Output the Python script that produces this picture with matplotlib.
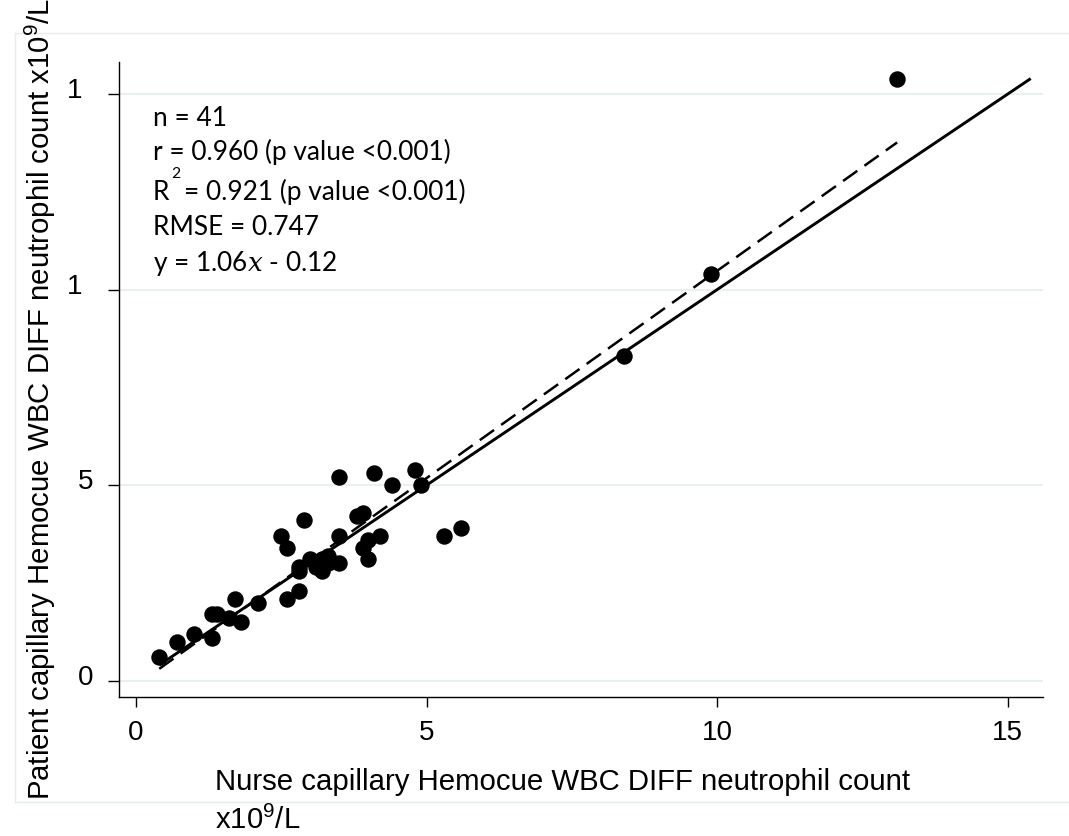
import matplotlib
matplotlib.use("Agg")
import matplotlib.pyplot as plt
from matplotlib.transforms import ScaledTranslation
from matplotlib.lines import Line2D

# ---------------- data ----------------
nurse = [0.4, 0.7, 1.0, 1.3, 1.3, 1.4, 1.6, 1.8, 1.7, 2.1,
         2.6, 2.8, 2.8, 2.8, 3.0, 2.5, 2.6, 2.9, 3.2, 3.2,
         3.3, 3.5, 3.5, 3.5, 3.8, 3.9, 3.9, 4.0, 4.0, 4.2,
         4.1, 4.4, 4.8, 4.9, 5.3, 5.6, 8.4, 9.9, 13.1, 3.3, 3.1]
patient = [0.6, 1.0, 1.2, 1.1, 1.7, 1.7, 1.6, 1.5, 2.1, 2.0,
           2.1, 2.3, 2.8, 2.9, 3.1, 3.7, 3.4, 4.1, 2.8, 3.1,
           3.2, 3.0, 3.7, 5.2, 4.2, 4.3, 3.4, 3.1, 3.6, 3.7,
           5.3, 5.0, 5.4, 5.0, 3.7, 3.9, 8.3, 10.4, 15.4, 3.0, 2.9]
fit_slope = 1.06
fit_intercept = -0.12
x_ticks = [0, 5, 10, 15]
x_tick_labels = ["0", "5", "10", "15"]
y_ticks = [0, 5, 10, 15]
y_tick_labels = ["0", "5", "1", "1"]
stat_n = "n = 41"
stat_r = "r = 0.960 (p value <0.001)"
stat_R2 = "= 0.921 (p value <0.001)"
stat_rmse = "RMSE = 0.747"
stat_eq = r"y = 1.06$x$ - 0.12"
xlabel_1 = "Nurse capillary Hemocue WBC DIFF neutrophil count"
xlabel_2 = r"x10$^{9}$/L"
ylabel = r"Patient capillary Hemocue WBC DIFF neutrophil count x10$^{9}$/L"

# ---------------- style ----------------
plt.rcParams["font.family"] = ["Liberation Sans", "DejaVu Sans"]
plt.rcParams["mathtext.fontset"] = "custom"
plt.rcParams["mathtext.rm"] = "Liberation Sans"
plt.rcParams["mathtext.it"] = "Liberation Sans:italic"
plt.rcParams["mathtext.bf"] = "Liberation Sans:bold"

W, H = 1069, 836
fig = plt.figure(figsize=(W / 100, H / 100), dpi=100)
renderer = fig.canvas.get_renderer()


def fx(px):
    return px / W


def fy(py):
    return 1 - py / H


def fit_size(text, target_px, family, base=20, **kw):
    t = fig.text(0, 0, text, family=family, size=base, **kw)
    w = t.get_window_extent(renderer).width
    t.remove()
    return base * target_px / w


# faint outer frame
frame_col = "#e4ecee"
fig.add_artist(Line2D([fx(15), fx(15)], [fy(33), fy(802)], color=frame_col, lw=1, transform=fig.transFigure))
fig.add_artist(Line2D([fx(15), 1.0], [fy(33), fy(33)], color=frame_col, lw=1, transform=fig.transFigure))
fig.add_artist(Line2D([fx(15), 1.0], [fy(802), fy(802)], color=frame_col, lw=1, transform=fig.transFigure))

left, right, top, bottom = 119.3, 1043, 62, 697
ax = fig.add_axes([fx(left), fy(bottom), (right - left) / W, (bottom - top) / H])

x0px, xscale = 136.0, 58.1
y0px, yscale = 680.7, 39.1
ax.set_xlim((left - x0px) / xscale, (right - x0px) / xscale)
ax.set_ylim((y0px - bottom) / yscale, (y0px - top) / yscale)

ax.yaxis.grid(True, color="#e8f0f2", lw=1.5)
ax.set_axisbelow(True)

ax.scatter(nurse, patient, s=140, c="black", linewidths=0, zorder=3)

lo = min(min(nurse), min(patient))
hi = max(max(nurse), max(patient))
ax.plot([lo, hi], [lo, hi], color="black", lw=2.1, zorder=2, solid_capstyle="butt")

xs = [min(nurse), max(nurse)]
ys = [fit_slope * v + fit_intercept for v in xs]
ax.plot(xs, ys, color="black", lw=1.8, ls=(0, (7, 3.5)), zorder=2)

for s in ["top", "right"]:
    ax.spines[s].set_visible(False)
for s in ["left", "bottom"]:
    ax.spines[s].set_linewidth(1.0)

tick_fs = 20
ax.set_xticks(x_ticks)
ax.set_xticklabels(x_tick_labels)
ax.set_yticks(y_ticks)
ax.set_yticklabels(y_tick_labels)
ax.tick_params(axis="x", length=7.5, width=1, pad=9, labelsize=tick_fs)
ax.tick_params(axis="y", length=8, width=1, pad=11, labelsize=tick_fs)

digit_w = tick_fs * 0.38 / 72
for i, tk in enumerate(ax.yaxis.get_major_ticks()):
    dx = -digit_w if i >= 2 else 0
    tk.label1.set_transform(tk.label1.get_transform() + ScaledTranslation(dx, 0.06, fig.dpi_scale_trans))

# annotation
ann_fam = ["Lato", "DejaVu Sans"]
ann_fs = fit_size(stat_r, 298, ann_fam)
tx = fx(153)
fig.text(tx, fy(126), stat_n, family=ann_fam, size=ann_fs, va="baseline")
fig.text(tx, fy(160), stat_r, family=ann_fam, size=ann_fs, va="baseline")
fig.text(tx, fy(200), "R", family=ann_fam, size=ann_fs, va="baseline")
fig.text(fx(171), fy(178), "2", family=ann_fam, size=ann_fs * 0.6, va="baseline")
fig.text(fx(184), fy(200), stat_R2, family=ann_fam, size=ann_fs, va="baseline")
fig.text(tx, fy(235), stat_rmse, family=ann_fam, size=ann_fs, va="baseline")
fig.text(tx, fy(271), stat_eq, family=ann_fam, size=ann_fs, va="baseline", math_fontfamily="dejavuserif")

# axis labels
lab_fs = fit_size(xlabel_1, 695, ["Liberation Sans", "DejaVu Sans"])
fig.text(fx(215), fy(790), xlabel_1, size=lab_fs, ha="left", va="baseline")
fig.text(fx(215), fy(829), xlabel_2, size=lab_fs, ha="left", va="baseline")
fig.text(fx(50), fy(800), ylabel, size=lab_fs, rotation=90, rotation_mode="anchor",
         ha="left", va="baseline")

fig.savefig("out.png", dpi=100, facecolor="white")
